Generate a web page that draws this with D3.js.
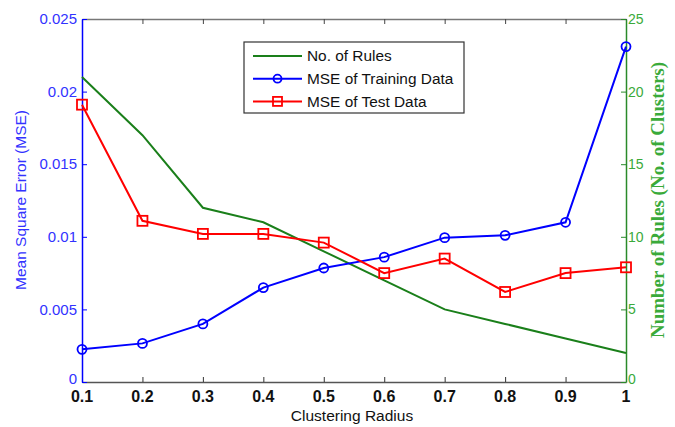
<!DOCTYPE html>
<html>
<head>
<meta charset="utf-8">
<script src="https://cdn.jsdelivr.net/npm/d3@7"></script>
<style>
  body { margin: 0; background: #fff; }
  svg { display: block; }
</style>
</head>
<body>
<svg id="chart" width="675" height="427"></svg>
<script>
// chart data
var radius = [0.1, 0.2, 0.3, 0.4, 0.5, 0.6, 0.7, 0.8, 0.9, 1.0];
var rules = [21, 17, 12, 11, 9, 7, 5, 4, 3, 2];
var mseTrain = [0.00225, 0.00266, 0.0040, 0.0065, 0.00785, 0.0086, 0.00994, 0.0101, 0.0110, 0.0231];
var mseTest = [0.0191, 0.0111, 0.0102, 0.0102, 0.0096, 0.0075, 0.0085, 0.0062, 0.0075, 0.0079];
var xTicks = [0.1, 0.2, 0.3, 0.4, 0.5, 0.6, 0.7, 0.8, 0.9, 1];
var leftTicks = [0, 0.005, 0.01, 0.015, 0.02, 0.025];
var rightTicks = [0, 5, 10, 15, 20, 25];

const svg = d3.select("#chart");

const plotLeft = 82, plotRight = 626, plotTop = 19, plotBottom = 382;

const xScale = d3.scaleLinear().domain([0.1, 1]).range([plotLeft, plotRight]);
const yLeft = d3.scaleLinear().domain([0, 0.025]).range([plotBottom, plotTop]);
const yRight = d3.scaleLinear().domain([0, 25]).range([plotBottom, plotTop]);

const blue = "#0000ff", red = "#ff0000", green = "#1a7f1a";

// top frame line with inward ticks
svg.append("g")
  .attr("transform", "translate(0," + plotTop + ")")
  .call(d3.axisBottom(xScale).tickValues(xTicks).tickSize(5).tickSizeOuter(0).tickFormat(""))
  .call(function (g) {
    g.select(".domain").attr("stroke", "#777").attr("stroke-width", 1.5);
    g.selectAll("line").attr("stroke", "#444");
  });

// bottom x axis
svg.append("g")
  .attr("transform", "translate(0," + plotBottom + ")")
  .call(d3.axisTop(xScale).tickValues(xTicks).tickSize(5).tickSizeOuter(0).tickFormat(""))
  .call(function (g) {
    g.select(".domain").attr("stroke", "#555").attr("stroke-width", 1.5);
    g.selectAll("line").attr("stroke", "#333");
  });

svg.append("g")
  .selectAll("text")
  .data(xTicks)
  .enter()
  .append("text")
  .attr("x", function (d) { return xScale(d); })
  .attr("y", 402)
  .attr("text-anchor", "middle")
  .attr("font-family", "Liberation Sans, Arial, sans-serif")
  .attr("font-weight", "bold")
  .attr("font-size", 16)
  .attr("fill", "#111")
  .text(function (d) { return d3.format("")(d); });

// left axis (MSE)
svg.append("g")
  .attr("transform", "translate(" + plotLeft + ",0)")
  .call(d3.axisRight(yLeft).tickValues(leftTicks).tickSize(5).tickSizeOuter(0).tickFormat(""))
  .call(function (g) {
    g.select(".domain").attr("stroke", blue).attr("stroke-width", 1.5);
    g.selectAll("line").attr("stroke", blue);
  });

svg.append("g")
  .selectAll("text")
  .data(leftTicks)
  .enter()
  .append("text")
  .attr("x", 77)
  .attr("y", function (d) { return d == 0 ? yLeft(d) - 3 : yLeft(d); })
  .attr("dy", "0.35em")
  .attr("text-anchor", "end")
  .attr("font-family", "Liberation Sans, Arial, sans-serif")
  .attr("font-size", 15)
  .attr("fill", "#3232ff")
  .text(function (d) { return d3.format("")(d); });

// right axis (rules)
svg.append("g")
  .attr("transform", "translate(" + plotRight + ",0)")
  .call(d3.axisLeft(yRight).tickValues(rightTicks).tickSize(5).tickSizeOuter(0).tickFormat(""))
  .call(function (g) {
    g.select(".domain").attr("stroke", "#2a8a2a").attr("stroke-width", 1.5);
    g.selectAll("line").attr("stroke", "#2a8a2a");
  });

svg.append("g")
  .selectAll("text")
  .data(rightTicks)
  .enter()
  .append("text")
  .attr("x", 628)
  .attr("y", function (d) { return d == 0 ? yRight(d) - 3 : yRight(d); })
  .attr("dy", "0.35em")
  .attr("text-anchor", "start")
  .attr("font-family", "Liberation Sans, Arial, sans-serif")
  .attr("font-size", 14)
  .attr("fill", "#3aaa3a")
  .text(function (d) { return d; });

// axis titles
svg.append("text")
  .attr("x", 352)
  .attr("y", 421)
  .attr("text-anchor", "middle")
  .attr("font-family", "Liberation Sans, Arial, sans-serif")
  .attr("font-size", 15.5)
  .attr("fill", "#111")
  .text("Clustering Radius");

svg.append("text")
  .attr("transform", "translate(26,200) rotate(-90)")
  .attr("text-anchor", "middle")
  .attr("font-family", "Liberation Sans, Arial, sans-serif")
  .attr("font-size", 15.5)
  .attr("fill", "#3232ff")
  .text("Mean Square Error (MSE)");

svg.append("text")
  .attr("transform", "translate(664,200) rotate(-90)")
  .attr("text-anchor", "middle")
  .attr("font-family", "Liberation Serif, Times New Roman, serif")
  .attr("font-weight", "bold")
  .attr("font-size", 19)
  .attr("fill", "#3aaa3a")
  .text("Number of Rules (No. of Clusters)");

// lines
const ruleLine = d3.line()
  .x(function (d, i) { return xScale(radius[i]); })
  .y(function (d) { return yRight(d); });

const mseLine = d3.line()
  .x(function (d, i) { return xScale(radius[i]); })
  .y(function (d) { return yLeft(d); });

svg.append("path")
  .datum(rules)
  .attr("fill", "none")
  .attr("stroke", green)
  .attr("stroke-width", 2)
  .attr("d", ruleLine);

svg.append("path")
  .datum(mseTrain)
  .attr("fill", "none")
  .attr("stroke", blue)
  .attr("stroke-width", 2)
  .attr("d", mseLine);

svg.append("path")
  .datum(mseTest)
  .attr("fill", "none")
  .attr("stroke", red)
  .attr("stroke-width", 2)
  .attr("d", mseLine);

// markers
svg.append("g")
  .selectAll("circle")
  .data(mseTrain)
  .enter()
  .append("circle")
  .attr("cx", function (d, i) { return xScale(radius[i]); })
  .attr("cy", function (d) { return yLeft(d); })
  .attr("r", 4.5)
  .attr("fill", "none")
  .attr("stroke", blue)
  .attr("stroke-width", 1.8);

svg.append("g")
  .selectAll("rect")
  .data(mseTest)
  .enter()
  .append("rect")
  .attr("x", function (d, i) { return xScale(radius[i]) - 5; })
  .attr("y", function (d) { return yLeft(d) - 5; })
  .attr("width", 10)
  .attr("height", 10)
  .attr("fill", "none")
  .attr("stroke", red)
  .attr("stroke-width", 1.8);

// legend
var legendItems = [
  { label: "No. of Rules", color: green, marker: "none" },
  { label: "MSE of Training Data", color: blue, marker: "circle" },
  { label: "MSE of Test Data", color: red, marker: "square" }
];

const legend = svg.append("g").attr("transform", "translate(244,42)");

legend.append("rect")
  .attr("width", 220)
  .attr("height", 71)
  .attr("fill", "#fff")
  .attr("stroke", "#333")
  .attr("stroke-width", 1.2);

legendItems.forEach(function (item, i) {
  const cy = 14 + i * 22.7;
  const row = legend.append("g").attr("transform", "translate(0," + cy + ")");
  row.append("line")
    .attr("x1", 9).attr("x2", 58)
    .attr("y1", 0).attr("y2", 0)
    .attr("stroke", item.color)
    .attr("stroke-width", 2);
  if (item.marker == "circle") {
    row.append("circle")
      .attr("cx", 33.5).attr("cy", 0).attr("r", 4)
      .attr("fill", "none").attr("stroke", item.color).attr("stroke-width", 1.8);
  } else if (item.marker == "square") {
    row.append("rect")
      .attr("x", 29).attr("y", -4.5).attr("width", 9).attr("height", 9)
      .attr("fill", "none").attr("stroke", item.color).attr("stroke-width", 1.8);
  }
  row.append("text")
    .attr("x", 63)
    .attr("y", 0)
    .attr("dy", "0.35em")
    .attr("font-family", "Liberation Sans, Arial, sans-serif")
    .attr("font-size", 15.4)
    .attr("fill", "#111")
    .text(item.label);
});
</script>
</body>
</html>
